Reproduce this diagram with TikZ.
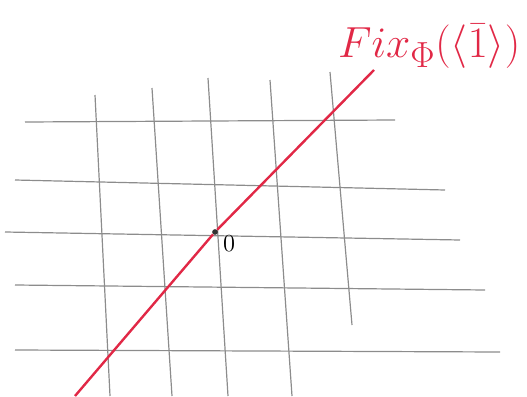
\documentclass[tikz,border=0pt]{standalone}
\definecolor{pen}{RGB}{225,40,70}
\definecolor{pencil}{RGB}{140,140,140}
\tikzset{
    gridline/.style={pencil, line width=1.2pt},
    fixline/.style={pen, line width=2.4pt},
}
\begin{document}
\begin{tikzpicture}[x=1pt,y=-1pt]
\useasboundingbox (0,0) rectangle (527,396);
% horizontal lines
\draw[gridline] (25,122) -- (395,120);
\draw[gridline] (15,180) -- (445,190);
\draw[gridline] (5,232) -- (460,240);
\draw[gridline] (15,285) -- (485,290);
\draw[gridline] (15,350) -- (500,352);
% vertical lines
\draw[gridline] (95,95) -- (110,396);
\draw[gridline] (152,88) -- (172,396);
\draw[gridline] (208,78) -- (228,396);
\draw[gridline] (270,80) -- (292,396);
\draw[gridline] (330,72) -- (352,325);
% the line through 0
\coordinate (low) at (75,396);
\coordinate (high) at (374,70);
\node[circle, fill=black!80, inner sep=2pt] (origin) at (215,232) {};
\node[anchor=north west, font=\Large, scale=1.7, inner sep=1pt] (zero) at ([xshift=4pt]origin.south east) {$0$};
\draw[fixline] (low) -- (origin) -- (high);
\node[pen, font=\Huge, scale=1.75, anchor=base west, inner sep=1pt] (label) at (336,58) {$Fix_{\Phi}(\langle\bar{1}\rangle)$};
\end{tikzpicture}
\end{document}
